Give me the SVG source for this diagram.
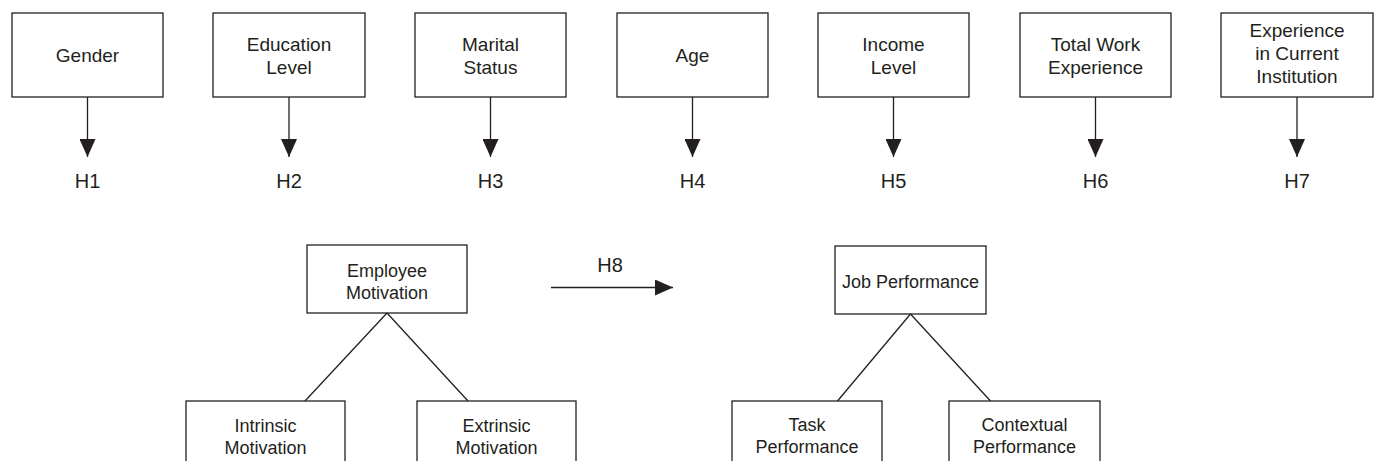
<svg xmlns="http://www.w3.org/2000/svg" width="1377" height="461" viewBox="0 0 1377 461">
<style>
rect{fill:#fff;stroke:#231f20;stroke-width:1.3}
text{font-family:"Liberation Sans",Arial,sans-serif;font-size:18px;fill:#231f20;text-anchor:middle}
.t{font-size:19px}
.h{font-size:20px}
.c{stroke:#231f20;stroke-width:1.3;fill:none}
</style>
<defs>
<marker id="ah" markerUnits="userSpaceOnUse" markerWidth="20" markerHeight="16" refX="18" refY="8" orient="auto">
<path d="M0,0 L18,8 L0,16 Z" fill="#231f20"/>
</marker>
</defs>
<rect x="0" y="0" width="1377" height="461" style="stroke:none"/>
<g id="gender" class="t"><rect x="12" y="13" width="151" height="84"/><text class="t" x="87.5" y="62">Gender</text></g>
<g id="education"><rect x="213" y="13" width="152" height="84"/><text class="t" x="289" y="51">Education</text><text class="t" x="289" y="74">Level</text></g>
<g id="marital"><rect x="415" y="13" width="151" height="84"/><text class="t" x="490.5" y="51">Marital</text><text class="t" x="490.5" y="74">Status</text></g>
<g id="age"><rect x="617" y="13" width="151" height="84"/><text class="t" x="692.5" y="62">Age</text></g>
<g id="income"><rect x="818" y="13" width="151" height="84"/><text class="t" x="893.5" y="51">Income</text><text class="t" x="893.5" y="74">Level</text></g>
<g id="totalwork"><rect x="1020" y="13" width="151" height="84"/><text class="t" x="1095.5" y="51">Total Work</text><text class="t" x="1095.5" y="74">Experience</text></g>
<g id="current"><rect x="1221" y="13" width="152" height="84"/><text class="t" x="1297" y="37">Experience</text><text class="t" x="1297" y="60">in Current</text><text class="t" x="1297" y="83">Institution</text></g>
<g id="h1"><text class="h" x="87.5" y="188">H1</text></g>
<g id="h2"><text class="h" x="289" y="188">H2</text></g>
<g id="h3"><text class="h" x="490.5" y="188">H3</text></g>
<g id="h4"><text class="h" x="692.5" y="188">H4</text></g>
<g id="h5"><text class="h" x="893.5" y="188">H5</text></g>
<g id="h6"><text class="h" x="1095.5" y="188">H6</text></g>
<g id="h7"><text class="h" x="1297" y="188">H7</text></g>
<g id="empmot"><rect x="307" y="245" width="160" height="68"/><text x="387" y="277">Employee</text><text x="387" y="299">Motivation</text></g>
<g id="jobperf"><rect x="835" y="246" width="151" height="68"/><text x="910.5" y="288">Job Performance</text></g>
<g id="intrinsic"><rect x="186" y="401" width="159" height="80"/><text x="265.5" y="432">Intrinsic</text><text x="265.5" y="454">Motivation</text></g>
<g id="extrinsic"><rect x="417" y="401" width="159" height="80"/><text x="496.5" y="432">Extrinsic</text><text x="496.5" y="454">Motivation</text></g>
<g id="task"><rect x="732" y="401" width="150" height="80"/><text x="807" y="431">Task</text><text x="807" y="453">Performance</text></g>
<g id="contextual"><rect x="949" y="401" width="151" height="80"/><text x="1024.5" y="431">Contextual</text><text x="1024.5" y="453">Performance</text></g>
<g id="h8"><text class="h" x="610" y="272">H8</text></g>
<g id="connectors">
<line class="c" x1="87.5" y1="97" x2="87.5" y2="157" marker-end="url(#ah)"/>
<line class="c" x1="289" y1="97" x2="289" y2="157" marker-end="url(#ah)"/>
<line class="c" x1="490.5" y1="97" x2="490.5" y2="157" marker-end="url(#ah)"/>
<line class="c" x1="692.5" y1="97" x2="692.5" y2="157" marker-end="url(#ah)"/>
<line class="c" x1="893.5" y1="97" x2="893.5" y2="157" marker-end="url(#ah)"/>
<line class="c" x1="1095.5" y1="97" x2="1095.5" y2="157" marker-end="url(#ah)"/>
<line class="c" x1="1297" y1="97" x2="1297" y2="157" marker-end="url(#ah)"/>
<line class="c" x1="551" y1="287.5" x2="673" y2="287.5" marker-end="url(#ah)"/>
<line class="c" x1="387" y1="313" x2="305" y2="401"/>
<line class="c" x1="387" y1="313" x2="468" y2="401"/>
<line class="c" x1="910.5" y1="314" x2="837.5" y2="401"/>
<line class="c" x1="910.5" y1="314" x2="990.5" y2="401"/>
</g>
</svg>
